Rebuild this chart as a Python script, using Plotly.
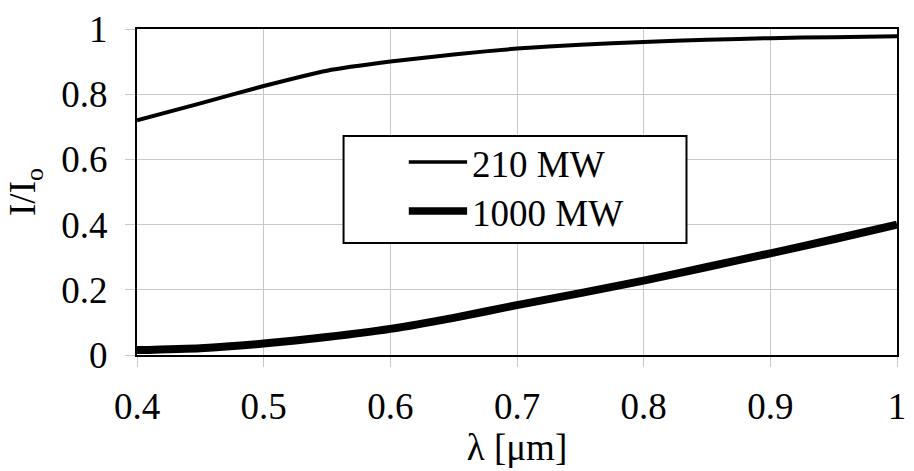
import plotly.graph_objects as go

wavelength = [0.40, 0.45, 0.50, 0.55, 0.60, 0.65, 0.70, 0.75, 0.80, 0.85, 0.90, 0.95, 1.00]
ratio_210 = [0.72, 0.772, 0.825, 0.872, 0.900, 0.922, 0.940, 0.952, 0.960, 0.967, 0.972, 0.975, 0.978]
ratio_1000 = [0.015, 0.021, 0.035, 0.055, 0.080, 0.114, 0.153, 0.190, 0.228, 0.270, 0.312, 0.355, 0.400]
series_names = ["210 MW", "1000 MW"]
x_ticks = [0.4, 0.5, 0.6, 0.7, 0.8, 0.9, 1.0]
x_tick_text = ["0.4", "0.5", "0.6", "0.7", "0.8", "0.9", "1"]
y_ticks = [0, 0.2, 0.4, 0.6, 0.8, 1.0]
y_tick_text = ["0", "0.2", "0.4", "0.6", "0.8", "1"]

FONT = "Liberation Serif"
FS = 37
W, H = 914, 471
L, R, T, B = 137, 8, 29, 116

fig = go.Figure()
fig.add_trace(go.Scatter(x=wavelength, y=ratio_210, mode="lines", name=series_names[0],
                         line=dict(color="black", width=4, shape="spline", smoothing=0.6),
                         showlegend=False))
fig.add_trace(go.Scatter(x=wavelength, y=ratio_1000, mode="lines", name=series_names[1],
                         line=dict(color="black", width=8, shape="spline", smoothing=0.6),
                         showlegend=False))

# manual legend (paper coordinates)
pw = W - L - R
ph = H - T - B
def px(xp):
    return (xp - L) / pw
def py(yp):
    return (H - B - yp) / ph

fig.add_shape(type="rect", xref="paper", yref="paper",
              x0=px(346), x1=px(693), y0=py(243), y1=py(136),
              line=dict(color="black", width=2), fillcolor="white", layer="above")
legend_rows = [(162, 3.5), (211, 7.5)]
for name, (yc, w) in zip(series_names, legend_rows):
    fig.add_shape(type="line", xref="paper", yref="paper",
                  x0=px(412), x1=px(471), y0=py(yc), y1=py(yc),
                  line=dict(color="black", width=w), layer="above")
    fig.add_annotation(xref="paper", yref="paper", x=px(474), y=py(yc + 2),
                       text=name, showarrow=False, xanchor="left", yanchor="middle",
                       font=dict(family=FONT, size=FS, color="black"))

fig.update_layout(
    width=W, height=H,
    margin=dict(l=L, r=R, t=T, b=B, pad=0),
    paper_bgcolor="white", plot_bgcolor="white",
    font=dict(family=FONT, size=FS, color="black"),
    showlegend=False,
)
fig.update_xaxes(
    range=[0.4, 1.0], tickvals=x_ticks, ticktext=x_tick_text,
    showgrid=True, gridcolor="#c8c8c8", gridwidth=1,
    showline=True, linecolor="black", linewidth=2, mirror=True,
    ticks="outside", ticklen=10, tickcolor="#c8c8c8", tickwidth=1,
    ticklabelstandoff=8,
    zeroline=False,
    title=dict(text="λ [μm]", font=dict(family=FONT, size=FS), standoff=6),
    tickfont=dict(family=FONT, size=FS),
)
fig.update_yaxes(
    range=[0, 1.0], tickvals=y_ticks, ticktext=y_tick_text,
    showgrid=True, gridcolor="#c8c8c8", gridwidth=1,
    showline=True, linecolor="black", linewidth=2, mirror=True,
    ticks="outside", ticklen=10, tickcolor="#c8c8c8", tickwidth=1,
    ticklabelstandoff=10,
    zeroline=False,
    title=dict(text="I/I<sub>o</sub>", font=dict(family=FONT, size=FS), standoff=14),
    tickfont=dict(family=FONT, size=FS),
)

fig.write_html("out.html")
